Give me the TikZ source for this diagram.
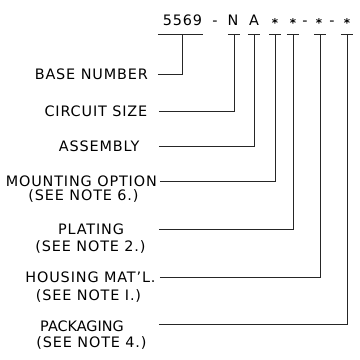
\documentclass[tikz,border=0pt]{standalone}
\usepackage{fontspec}
\setmainfont{DejaVu Sans}[LetterSpace=6]
\begin{document}
\begin{tikzpicture}[x=1pt,y=-1pt,
  lbl/.style={inner sep=0pt, font=\fontsize{14.4}{17}\selectfont},
  code/.style={inner sep=0pt, anchor=base, font=\fontsize{14.4}{17}\selectfont},
  star/.style={inner sep=0pt, anchor=base, font=\fontsize{12}{14}\selectfont\bfseries},
  wire/.style={line width=0.9pt, draw=black!85}]
\useasboundingbox (0,0) rectangle (360,360);
% code string
\node[code] (c0) at (182.5,25) {5569};
\node[code] (d1) at (215,25) {-};
\node[code] (c1) at (233,25) {N};
\node[code] (c2) at (254,25) {A};
\node[star] (c3) at (275,27) {*};
\node[star] (c4) at (293,27) {*};
\node[code] (d2) at (305,25) {-};
\node[star] (c5) at (319,27) {*};
\node[code] (d3) at (332,25) {-};
\node[star] (c6) at (347,27) {*};
% tick tops
\coordinate (t0) at (182,34);
\coordinate (t1) at (234,34);
\coordinate (t2) at (254,34);
\coordinate (t3) at (275,34);
\coordinate (t4) at (293,34);
\coordinate (t5) at (320,34);
\coordinate (t6) at (347,34);
% connector start points
\coordinate (e0) at (158,74);
\coordinate (e1) at (159,111);
\coordinate (e2) at (159,146);
\coordinate (e3) at (160,181);
\coordinate (e4) at (159,229);
\coordinate (e5) at (160,277);
\coordinate (e6) at (159,324);
% labels
\node[lbl, anchor=base east] (l0) at (148,79) {BASE NUMBER};
\node[lbl, anchor=base east] (l1) at (147.5,116.5) {CIRCUIT SIZE};
\node[lbl, anchor=base east] (l2) at (139.5,151.5) {ASSEMBLY};
\node[lbl, anchor=base east] (l3a) at (157,186.5) {MOUNTING OPTION};
\node[lbl, anchor=base] (l3b) at (83.5,200.5) {(SEE NOTE 6.)};
\node[lbl, anchor=base] (l4a) at (91,234.5) {PLATING};
\node[lbl, anchor=base] (l4b) at (90.5,251) {(SEE NOTE 2.)};
\node[lbl, anchor=base] (l5a) at (90.5,282.5) {HOUSING MAT'L.};
\node[lbl, anchor=base] (l5b) at (88.5,300) {(SEE NOTE I.)};
\node[lbl, anchor=base, font=\fontsize{14.4}{17}\selectfont\addfontfeature{LetterSpace=0}] (l6a) at (82,331) {PACKAGING};
\node[lbl, anchor=base] (l6b) at (91.5,347.5) {(SEE NOTE 4.)};
% underlines
\draw[wire] (158,34) -- (203,34);
\foreach \t in {t1,t2,t3,t4,t5,t6}{
  \draw[wire] ([xshift=-6pt]\t) -- ([xshift=6pt]\t);
}
% connectors
\draw[wire] (e0) -| (t0);
\draw[wire] (e1) -| (t1);
\draw[wire] (e2) -| (t2);
\draw[wire] (e3) -| (t3);
\draw[wire] (e4) -| (t4);
\draw[wire] (e5) -| (t5);
\draw[wire] (e6) -| (t6);
\end{tikzpicture}
\end{document}
